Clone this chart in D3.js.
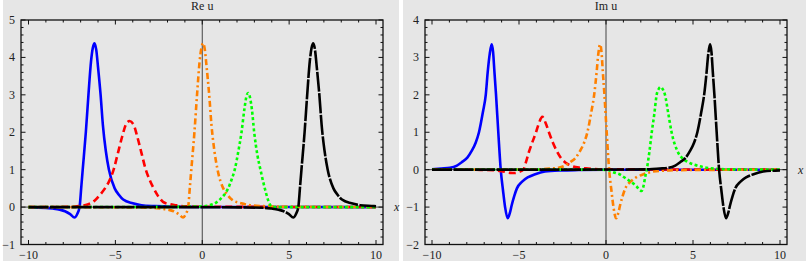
<!DOCTYPE html>
<html>
<head>
<meta charset="utf-8">
<script src="https://cdn.jsdelivr.net/npm/d3@7"></script>
<style>
  body { margin: 0; background: #fff; }
  text { font-family: "Liberation Serif", "Times New Roman", serif; font-size: 12px; fill: #222; }
</style>
</head>
<body>
<svg id="chart" width="812" height="266"></svg>
<script>
// Tick values shared by both panels.
var xTicks = [-10, -5, 0, 5, 10];
var reYTicks = [-1, 0, 1, 2, 3, 4, 5];
var imYTicks = [-2, -1, 0, 1, 2, 3, 4];

// Re u.
var reBlue = [[-10,-0.01],[-9,-0.02],[-8.6,-0.04],[-8.2,-0.07],[-7.9,-0.11],[-7.6,-0.19],[-7.35,-0.28],[-7.2,-0.19],[-7.06,0],[-6.96,0.55],[-6.88,1.0],[-6.7,2.0],[-6.55,3.0],[-6.4,3.9],[-6.3,4.25],[-6.2,4.38],[-6.1,4.2],[-6.0,3.75],[-5.85,3.0],[-5.72,2.2],[-5.55,1.5],[-5.37,1.0],[-5.04,0.5],[-4.8,0.33],[-4.55,0.2],[-4.0,0.1],[-3.5,0.05],[-2.7,0.025],[-1.7,0.01],[0,0.004],[10,0]];
var reRed = [[-10,0],[-8,0.005],[-7.5,0.01],[-7,0.03],[-6.6,0.07],[-6.2,0.17],[-5.9,0.32],[-5.6,0.5],[-5.37,0.68],[-5.1,1.0],[-4.85,1.45],[-4.6,1.9],[-4.4,2.2],[-4.18,2.3],[-3.95,2.2],[-3.75,1.9],[-3.5,1.45],[-3.25,1.0],[-3.0,0.7],[-2.84,0.54],[-2.55,0.3],[-2.26,0.14],[-1.9,0.08],[-1.49,0.05],[-1,0.02],[0,0.01],[10,0]];
var reOrange = [[-10,0],[-6,-0.003],[-3.75,-0.01],[-2.75,-0.02],[-2.35,-0.04],[-1.95,-0.07],[-1.65,-0.11],[-1.35,-0.19],[-1.1,-0.28],[-0.95,-0.19],[-0.81,0],[-0.71,0.55],[-0.63,1.0],[-0.45,2.0],[-0.3,3.0],[-0.15,3.9],[-0.05,4.25],[0.05,4.38],[0.15,4.2],[0.25,3.75],[0.4,3.0],[0.53,2.2],[0.7,1.5],[0.88,1.0],[1.21,0.5],[1.45,0.33],[1.7,0.2],[2.25,0.1],[2.75,0.05],[3.55,0.025],[4.55,0.01],[7,0.003],[10,0]];
var reGreen = [[-10,0],[-2,0.005],[0,0.02],[0.43,0.05],[0.8,0.12],[1.01,0.2],[1.25,0.32],[1.49,0.5],[1.7,0.75],[1.87,1.0],[2.08,1.5],[2.26,2.0],[2.42,2.6],[2.54,2.95],[2.64,3.05],[2.74,2.95],[2.86,2.6],[2.99,2.0],[3.17,1.4],[3.35,1.0],[3.6,0.5],[3.78,0.2],[3.92,0.05],[4.1,0],[10,0]];
var reBlack = [[-10,0],[0,-0.003],[2.59,-0.01],[3.59,-0.02],[3.99,-0.04],[4.39,-0.07],[4.69,-0.11],[4.99,-0.19],[5.24,-0.28],[5.39,-0.19],[5.53,0],[5.63,0.55],[5.71,1.0],[5.89,2.0],[6.04,3.0],[6.19,3.9],[6.29,4.25],[6.39,4.38],[6.49,4.2],[6.59,3.75],[6.74,3.0],[6.87,2.2],[7.04,1.5],[7.22,1.0],[7.55,0.5],[7.79,0.33],[8.04,0.2],[8.59,0.1],[9.09,0.05],[9.89,0.025],[10,0.02]];

// Im u.
var imBlue = [[-10,0.01],[-9.47,0.03],[-8.97,0.05],[-8.57,0.11],[-8.29,0.2],[-7.97,0.32],[-7.72,0.5],[-7.49,0.72],[-7.3,1.0],[-7.07,1.55],[-6.91,2.0],[-6.8,2.6],[-6.68,3.1],[-6.57,3.35],[-6.49,3.15],[-6.41,2.6],[-6.32,2.0],[-6.19,1.0],[-6.05,0],[-5.92,-0.55],[-5.8,-1.0],[-5.65,-1.3],[-5.52,-1.15],[-5.42,-0.95],[-5.27,-0.7],[-5.12,-0.5],[-4.82,-0.32],[-4.47,-0.2],[-4.07,-0.12],[-3.51,-0.05],[-2.57,-0.02],[-1.57,-0.01],[0,-0.004],[10,0]];
var imRed = [[-10,0],[-7,-0.005],[-6.3,-0.02],[-5.9,-0.05],[-5.5,-0.085],[-5.23,-0.09],[-5.0,-0.06],[-4.75,0],[-4.6,0.2],[-4.41,0.5],[-4.22,0.75],[-4.02,1.0],[-3.85,1.25],[-3.66,1.41],[-3.47,1.25],[-3.28,1.0],[-3.05,0.72],[-2.83,0.5],[-2.6,0.32],[-2.36,0.2],[-1.97,0.1],[-1.5,0.05],[-1.03,0.03],[0,0.01],[10,0]];
var imOrange = [[-10,0],[-6,0.003],[-3.84,0.01],[-3.24,0.03],[-2.74,0.05],[-2.34,0.11],[-2.06,0.2],[-1.74,0.32],[-1.49,0.5],[-1.26,0.72],[-1.07,1.0],[-0.84,1.55],[-0.68,2.0],[-0.54,2.6],[-0.44,3.1],[-0.34,3.35],[-0.26,3.15],[-0.18,2.6],[-0.09,2.0],[0.04,1.0],[0.18,0],[0.31,-0.55],[0.43,-1.0],[0.58,-1.3],[0.71,-1.15],[0.81,-0.95],[0.96,-0.7],[1.11,-0.5],[1.41,-0.32],[1.76,-0.2],[2.16,-0.12],[2.72,-0.05],[3.66,-0.02],[4.66,-0.01],[7,-0.003],[10,0]];
var imGreen = [[-10,0],[-1,0],[0,-0.005],[0.11,-0.01],[0.42,-0.07],[0.8,-0.13],[1.19,-0.25],[1.57,-0.37],[1.76,-0.45],[1.95,-0.55],[2.05,-0.57],[2.15,-0.45],[2.25,-0.2],[2.34,0],[2.5,0.5],[2.63,1.0],[2.78,1.5],[2.91,2.0],[3.02,2.15],[3.14,2.21],[3.26,2.15],[3.39,2.0],[3.58,1.5],[3.77,1.0],[4.1,0.5],[4.4,0.3],[4.73,0.2],[5.31,0.1],[6.17,0.03],[7,0.01],[10,0]];
var imBlack = [[-10,0],[0,0.003],[2.48,0.01],[3.08,0.03],[3.58,0.05],[3.98,0.11],[4.26,0.2],[4.58,0.32],[4.83,0.5],[5.06,0.72],[5.25,1.0],[5.48,1.55],[5.64,2.0],[5.78,2.6],[5.88,3.1],[5.98,3.35],[6.06,3.15],[6.14,2.6],[6.23,2.0],[6.36,1.0],[6.5,0],[6.63,-0.55],[6.75,-1.0],[6.9,-1.3],[7.03,-1.15],[7.13,-0.95],[7.28,-0.7],[7.43,-0.5],[7.73,-0.32],[8.08,-0.2],[8.48,-0.12],[9.04,-0.05],[10,-0.02]];

// Line styles, in drawing order (last one ends up on top).
var styles = [
  { color: "#0000ff", dash: null },
  { color: "#ff0000", dash: "7,4" },
  { color: "#ff8000", dash: "6,3,2,3" },
  { color: "#00ff00", dash: "3,2.5" },
  { color: "#000000", dash: "20,1.5" }
];

var svg = d3.select("#chart");

function drawPanel(p) {
  var g = svg.append("g");

  // grey panel background
  g.append("rect")
    .attr("x", p.bg[0]).attr("y", 0)
    .attr("width", p.bg[1] - p.bg[0]).attr("height", 261)
    .attr("fill", "#e6e6e6");

  var x = d3.scaleLinear().domain([-10, 10]).range(p.xr);
  var y = d3.scaleLinear().domain(p.yd).range([244.5, 20]);
  var left = p.frame[0], right = p.frame[1], top = 20, bottom = 244.5;

  var clipId = "clip" + p.id;
  g.append("clipPath").attr("id", clipId)
    .append("rect").attr("x", left).attr("y", top)
    .attr("width", right - left).attr("height", bottom - top);

  // axes through the origin
  g.append("line")
    .attr("x1", x(0)).attr("x2", x(0)).attr("y1", top).attr("y2", bottom)
    .attr("stroke", "#444").attr("stroke-width", 1);
  g.append("line")
    .attr("x1", left).attr("x2", right).attr("y1", y(0)).attr("y2", y(0))
    .attr("stroke", "#444").attr("stroke-width", 1);

  var line = d3.line()
    .x(function(d) { return x(d[0]); })
    .y(function(d) { return y(d[1]); })
    .curve(d3.curveMonotoneX);

  var curves = g.append("g").attr("clip-path", "url(#" + clipId + ")");
  p.series.forEach(function(s, i) {
    curves.append("path")
      .datum(s)
      .attr("d", line)
      .attr("fill", "none")
      .attr("stroke", styles[i].color)
      .attr("stroke-width", 2.6)
      .attr("stroke-linejoin", "round")
      .attr("stroke-dasharray", styles[i].dash);
  });

  // frame
  g.append("rect")
    .attr("x", left).attr("y", top)
    .attr("width", right - left).attr("height", bottom - top)
    .attr("fill", "none").attr("stroke", "#111").attr("stroke-width", 1.3);

  // frame ticks, pointing inward on all sides
  var tk = g.append("g").attr("stroke", "#111").attr("stroke-width", 1);
  d3.range(-10, 11, 1).forEach(function(v) {
    var len = v % 5 === 0 ? 4.5 : 2.5;
    tk.append("line").attr("x1", x(v)).attr("x2", x(v)).attr("y1", bottom).attr("y2", bottom - len);
    tk.append("line").attr("x1", x(v)).attr("x2", x(v)).attr("y1", top).attr("y2", top + len);
  });
  d3.range(p.yd[0] * 5, p.yd[1] * 5 + 1, 1).forEach(function(k) {
    var v = k / 5;
    var len = k % 5 === 0 ? 4.5 : 2.5;
    tk.append("line").attr("x1", left).attr("x2", left + len).attr("y1", y(v)).attr("y2", y(v));
    tk.append("line").attr("x1", right).attr("x2", right - len).attr("y1", y(v)).attr("y2", y(v));
  });

  // tick labels
  xTicks.forEach(function(v) {
    g.append("text")
      .attr("x", x(v)).attr("y", 259)
      .attr("text-anchor", "middle")
      .text(v < 0 ? "\u2212" + Math.abs(v) : v);
  });
  p.yTicks.forEach(function(v) {
    g.append("text")
      .attr("x", left - 6).attr("y", y(v) + 4)
      .attr("text-anchor", "end")
      .text(v < 0 ? "\u2212" + Math.abs(v) : v);
  });

  // title and axis label
  g.append("text")
    .attr("x", x(0)).attr("y", 10)
    .attr("text-anchor", "middle")
    .text(p.title);
  g.append("text")
    .attr("x", right + 11).attr("y", y(0) + 4)
    .attr("font-style", "italic")
    .text("x");
}

drawPanel({
  id: "re", title: "Re u", bg: [3, 399], frame: [21, 383], xr: [28.5, 376],
  yd: [-1, 5], yTicks: reYTicks,
  series: [reBlue, reRed, reOrange, reGreen, reBlack]
});

drawPanel({
  id: "im", title: "Im u", bg: [403, 806], frame: [425, 787], xr: [432, 780],
  yd: [-2, 4], yTicks: imYTicks,
  series: [imBlue, imRed, imOrange, imGreen, imBlack]
});
</script>
</body>
</html>
